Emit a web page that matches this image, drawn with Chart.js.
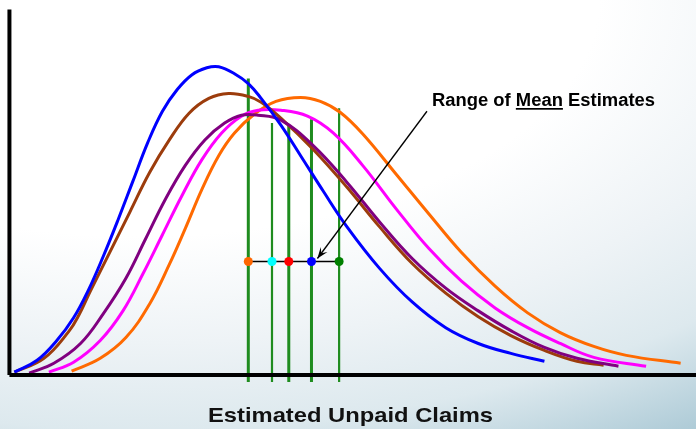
<!DOCTYPE html>
<html>
<head>
<meta charset="utf-8">
<script src="https://cdn.jsdelivr.net/npm/chart.js@4.4.1/dist/chart.umd.min.js"></script>
<style>
  html, body { margin: 0; padding: 0; }
  body {
    width: 696px; height: 429px; overflow: hidden;
    background: radial-gradient(ellipse 120% 100% at 20% 0%, #ffffff 55%, #eef3f6 80%, #dde9ee 100%, #aecbd7 120%);
  }
  #wrap { position: relative; width: 696px; height: 429px; }
</style>
</head>
<body>
<div id="wrap"><canvas id="lineChart" width="696" height="429"></canvas></div>
<script>
// curve points (x = claim amount units, y = density units)
const blueCurve = [[5,3],[28,15],[48,35],[65,58],[80,86],[95,120],[110,157],[125,196],[140,235],[155,267],[170,289],[185,304],[200,311],[212,312],[228,305],[242,295],[255,280],[275,253],[295,222],[318,186],[342,150],[375,108],[408,74],[442,48],[475,32],[508,22],[542,14]];
const brownCurve = [[5,3],[35,17],[60,44],[70,60],[82,85],[102,125],[122,165],[142,205],[162,238],[182,265],[202,280],[222,285],[242,282],[255,276],[275,260],[308,228],[342,190],[375,150],[408,113],[442,83],[475,59],[508,40],[542,25],[575,14],[602,10]];
const purpleCurve = [[20,2],[45,12],[72,32],[95,62],[118,98],[138,138],[158,178],[178,212],[198,238],[218,255],[235,263],[252,263],[275,258],[308,232],[342,195],[375,155],[408,118],[442,88],[475,65],[508,45],[542,28],[575,17],[617,9]];
const magentaCurve = [[40,3],[65,13],[92,35],[115,65],[135,102],[155,142],[175,182],[195,218],[215,245],[235,262],[252,268],[275,268],[302,262],[328,245],[358,212],[392,168],[425,128],[458,95],[492,68],[525,48],[558,32],[592,18],[645,9]];
const orangeCurve = [[63,4],[92,17],[118,38],[142,72],[162,112],[178,148],[195,188],[212,222],[228,245],[248,264],[270,277],[295,281],[315,277],[335,266],[358,244],[392,203],[425,163],[458,124],[492,90],[525,63],[558,43],[592,29],[625,20],[680,12]];

// mean estimates (x) with the height of each green marker line
const meanValues = [242, 266, 283, 306, 334];
const meanTops = [300, 255, 253, 259, 270];
const meanDotColors = ['#ff6600', '#00ffff', '#ff0000', '#0000ff', '#008000'];
const rangeLevel = 115;

const xTitle = 'Estimated Unpaid Claims';
const noteText = ['Range of ', 'Mean', ' Estimates'];

function toPts(arr) {
    return arr.map(p => ({ x: p[0], y: p[1] }));
}

function curve(data, color, order) {
    return {
        type: 'line', data: toPts(data), borderColor: color, borderWidth: 3,
        pointRadius: 0, tension: 0.4, order: order, clip: false
    };
}

const datasets = [];
// axes
datasets.push({ type: 'line', data: [{x: 0, y: 0}, {x: 0, y: 370}], borderColor: '#000', borderWidth: 4, pointRadius: 0, order: 1, clip: false });
datasets.push({ type: 'line', data: [{x: 0, y: 0}, {x: 700, y: 0}], borderColor: '#000', borderWidth: 4, pointRadius: 0, order: 1, clip: false });
// green mean lines
meanValues.forEach((m, i) => {
    datasets.push({
        type: 'line', data: [{x: m, y: meanTops[i]}, {x: m, y: -7}],
        borderColor: '#1f8c1f', borderWidth: (i === 1 || i === 4) ? 2.2 : 3,
        pointRadius: 0, order: 20, clip: false
    });
});
datasets.push(curve(orangeCurve, '#ff6a00', 15));
datasets.push(curve(magentaCurve, '#ff00ff', 14));
datasets.push(curve(brownCurve, '#9c3c0c', 13));
datasets.push(curve(purpleCurve, '#800080', 12));
datasets.push(curve(blueCurve, '#0000ff', 11));
// range line and dots
datasets.push({
    type: 'line', data: [{x: meanValues[0], y: rangeLevel}, {x: meanValues[4], y: rangeLevel}],
    borderColor: '#000', borderWidth: 1.5, pointRadius: 0, order: 3
});
datasets.push({
    type: 'scatter', data: meanValues.map(m => ({x: m, y: rangeLevel})),
    pointRadius: 4.5, pointBackgroundColor: meanDotColors, pointBorderWidth: 0,
    borderColor: 'transparent', order: 2
});

// draw text squeezed/stretched to a given width
function fitText(ctx, parts, x, y, width, underlineIdx) {
    let natural = 0;
    parts.forEach(p => { natural += ctx.measureText(p).width; });
    const k = width / natural;
    ctx.save();
    ctx.translate(x, y);
    ctx.scale(k, 1);
    let tx = 0;
    parts.forEach((p, i) => {
        ctx.fillText(p, tx, 0);
        const w = ctx.measureText(p).width;
        if (i === underlineIdx) ctx.fillRect(tx, 2, w, 1.7);
        tx += w;
    });
    ctx.restore();
}

const notePlugin = {
    id: 'note',
    afterDatasetsDraw(chart) {
        const ctx = chart.ctx;
        const xs = chart.scales.x, ys = chart.scales.y;
        // arrow
        const x0 = xs.getPixelForValue(423), y0 = ys.getPixelForValue(267);
        const x1 = xs.getPixelForValue(312), y1 = ys.getPixelForValue(118);
        ctx.save();
        ctx.strokeStyle = '#000';
        ctx.fillStyle = '#000';
        ctx.lineWidth = 1.3;
        ctx.beginPath();
        ctx.moveTo(x0, y0);
        ctx.lineTo(x1, y1);
        ctx.stroke();
        const ang = Math.atan2(y1 - y0, x1 - x0);
        const len = 12, spread = 0.36;
        ctx.beginPath();
        ctx.moveTo(x1, y1);
        ctx.lineTo(x1 - len * Math.cos(ang - spread), y1 - len * Math.sin(ang - spread));
        ctx.lineTo(x1 - len * 0.55 * Math.cos(ang), y1 - len * 0.55 * Math.sin(ang));
        ctx.lineTo(x1 - len * Math.cos(ang + spread), y1 - len * Math.sin(ang + spread));
        ctx.closePath();
        ctx.fill();
        // labels
        ctx.textBaseline = 'alphabetic';
        ctx.fillStyle = '#000';
        ctx.font = 'bold 18px "Liberation Sans", Arial, sans-serif';
        fitText(ctx, noteText, 432, 106, 223, 1);
        ctx.fillStyle = '#111';
        ctx.font = 'bold 21px "Liberation Sans", Arial, sans-serif';
        fitText(ctx, [xTitle], 208, 422, 285, -1);
        ctx.restore();
    }
};

const ctx = document.getElementById('lineChart').getContext('2d');
const myChart = new Chart(ctx, {
    data: { datasets: datasets },
    options: {
        responsive: false,
        animation: false,
        layout: { padding: { left: 0, right: 0, top: 0, bottom: 44 } },
        scales: {
            x: { type: 'linear', min: -5, max: 691, display: false },
            y: { type: 'linear', min: -10, max: 375, display: false }
        },
        plugins: {
            legend: { display: false },
            tooltip: { enabled: false },
            title: { display: false }
        }
    },
    plugins: [notePlugin]
});
</script>
</body>
</html>
